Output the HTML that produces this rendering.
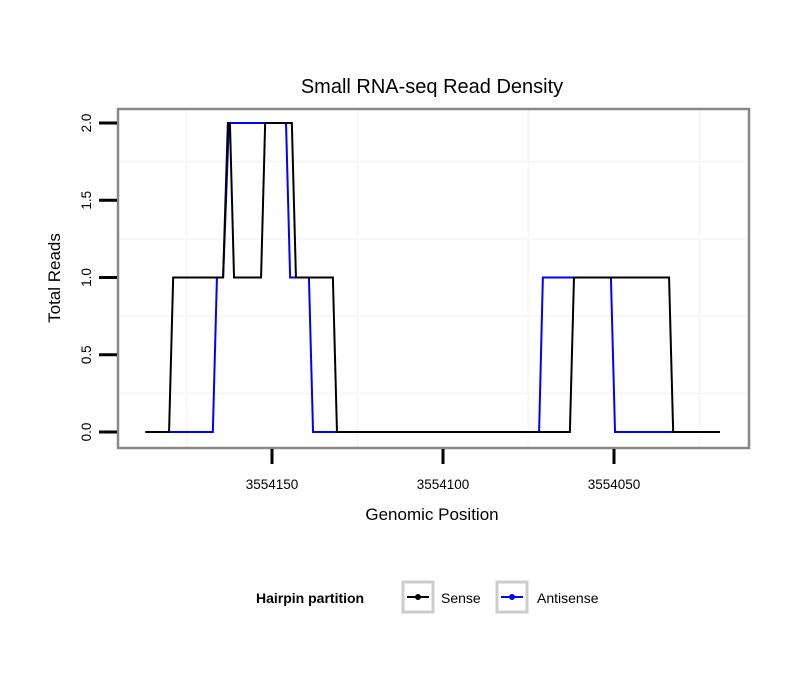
<!DOCTYPE html>
<html><head><meta charset="utf-8"><style>body{margin:0;background:#fff}svg{font-family:"Liberation Sans",sans-serif}</style></head>
<body>
<svg id="c" width="810" height="690" xmlns="http://www.w3.org/2000/svg">
<rect width="810" height="690" fill="#fff"/>
<text x="432" y="93" font-size="20" text-anchor="middle">Small RNA-seq Read Density</text>
<g id="grid"></g>
<g id="lines"></g>
<rect x="118" y="109" width="631" height="339" fill="none" stroke="#888" stroke-width="2.5"/>
<g id="axes"></g>
<text x="432" y="520" font-size="17" text-anchor="middle">Genomic Position</text>
<text transform="translate(60,278) rotate(-90)" font-size="17" text-anchor="middle">Total Reads</text>
<g>
<text x="256" y="603" font-size="14" font-weight="bold">Hairpin partition</text>
<g>
<rect x="403" y="582" width="30" height="30" fill="#fff" stroke="#ccc" stroke-width="3"/>
<line x1="407" y1="597" x2="429" y2="597" stroke="#000" stroke-width="2"/><circle cx="418" cy="597" r="3" fill="#000"/>
<text x="441" y="603" font-size="14">Sense</text></g>
<g>
<rect x="497" y="582" width="30" height="30" fill="#fff" stroke="#ccc" stroke-width="3"/>
<line x1="501" y1="597" x2="523" y2="597" stroke="#00f" stroke-width="2"/><circle cx="512" cy="597" r="3" fill="#00f"/>
<text x="537" y="603" font-size="14">Antisense</text></g>
</g>
</svg>
<script>
const senseOffsets=[37.1,30.1,28.9,14.3,12.9,12.3,11.1,3.2,2.0,-5.8,-7.0,-17.8,-19.0,-87.1,-88.3,-116.1,-117.3,-131.0];
const senseValues=[0,0,1,1,2,2,1,1,2,2,1,1,0,0,1,1,0,0];
const antiOffsets=[30.1,17.3,16.1,14.3,12.6,-4.1,-5.3,-10.8,-12.0,-78.1,-79.2,-99.1,-100.3,-117.3];
const antiValues=[0,0,1,1,2,2,1,1,0,0,1,1,0,0];
const basePos=3554150;
const xTicks=[3554150,3554100,3554050];
const yTicks=[0,0.5,1,1.5,2];
const NS="http://www.w3.org/2000/svg";
function xs(p){return 272+(basePos-p)*3.42;}
function ys(v){return 432-v*154.5;}
function mk(t,a,parent){const e=document.createElementNS(NS,t);for(const k in a)e.setAttribute(k,a[k]);parent.appendChild(e);return e;}
const grid=document.getElementById('grid'),axes=document.getElementById('axes'),lines=document.getElementById('lines');
[0.25,0.75,1.25,1.75].forEach(v=>{const l=mk('line',{x1:118,x2:749,y1:ys(v),y2:ys(v),stroke:'#f7f7f7','stroke-width':2},grid);

});
[3554175,3554125,3554075,3554025].forEach(p=>{const l=mk('line',{x1:xs(p),x2:xs(p),y1:109,y2:448,stroke:'#f7f7f7','stroke-width':2},grid);

});
yTicks.forEach(v=>{const t=mk('line',{x1:99,x2:117,y1:ys(v),y2:ys(v),stroke:'#000','stroke-width':3},axes);


const tx=mk('text',{transform:`translate(91,${ys(v)}) rotate(-90)`,'font-size':13.5,'text-anchor':'middle'},axes);tx.textContent=v.toFixed(1);

});
xTicks.forEach(p=>{const t=mk('line',{x1:xs(p),x2:xs(p),y1:449,y2:464,stroke:'#000','stroke-width':3},axes);


const tx=mk('text',{x:xs(p),y:489,'font-size':13.5,'text-anchor':'middle'},axes);tx.textContent=p;

});
function series(offs,vals,col,name){const pts=offs.map((o,i)=>xs(basePos+o)+','+ys(vals[i])).join(' ');
const pl=mk('polyline',{points:pts,fill:'none',stroke:col,'stroke-width':2},lines);

}
series(antiOffsets,antiValues,'#00f','antisense-line');
series(senseOffsets,senseValues,'#000','sense-line');
</script>
</body></html>
